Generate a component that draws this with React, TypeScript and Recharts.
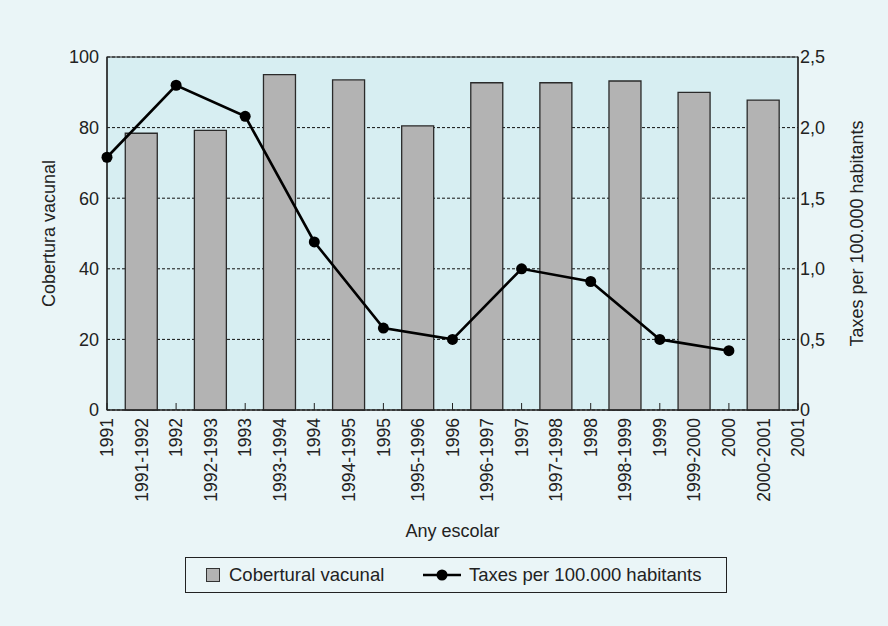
import React from 'react';
import { ComposedChart, Bar, Line, XAxis, YAxis, CartesianGrid, Legend, ReferenceArea } from 'recharts';

const FONT = '"Liberation Sans", Arial, Helvetica, sans-serif';
const INK = '#222';

// Axis categories: calendar years on the whole ticks, school years in between
const tickLabels = [
  '1991', '1991-1992', '1992', '1992-1993', '1993', '1993-1994', '1994',
  '1994-1995', '1995', '1995-1996', '1996', '1996-1997', '1997', '1997-1998',
  '1998', '1998-1999', '1999', '1999-2000', '2000', '2000-2001', '2001',
];
// Vaccine coverage (%) per school year
const coverage = [78.4, 79.2, 95, 93.5, 80.5, 92.7, 92.7, 93.2, 90, 87.8];
// Rate per 100,000 inhabitants per calendar year (1991-2000)
const rates = [1.79, 2.3, 2.08, 1.19, 0.58, 0.5, 1.0, 0.91, 0.5, 0.42];
const leftTicks = [0, 20, 40, 60, 80, 100];
const rightTicks = [0, 0.5, 1, 1.5, 2, 2.5];

const tickPositions = tickLabels.map((_, i) => 1991 + i / 2);
const data = tickPositions.map((x, i) => ({
  x,
  cobertura: i % 2 === 1 ? coverage[(i - 1) / 2] : null,
  taxes: i % 2 === 0 && i / 2 < rates.length ? rates[i / 2] : null,
}));

const fmtRate = (v: number) => (v === 0 ? '0' : v.toFixed(1).replace('.', ','));

const YearTick = (props: any) => {
  const { x, y, payload } = props;
  const idx = Math.round((payload.value - 1991) * 2);
  const isYear = idx % 2 === 0;
  return (
    <g>
      {isYear && <line x1={x} x2={x} y1={y - 8} y2={y - 15} stroke={INK} strokeWidth={1} />}
      <text
        x={x}
        y={y}
        transform={`rotate(-90, ${x}, ${y})`}
        textAnchor="end"
        dy="0.35em"
        fontFamily={FONT}
        fontSize={17.5}
        fill={INK}
      >
        {tickLabels[idx]}
      </text>
    </g>
  );
};

const titleStyle = { fontFamily: FONT, fontSize: 18, fill: INK };

const LegendBox = () => (
  <div style={{ position: 'relative', width: 888, height: 76 }}>
    <div
      style={{
        position: 'absolute',
        left: 185,
        top: 7,
        width: 542,
        height: 36,
        border: `1.2px solid ${INK}`,
        boxSizing: 'border-box',
        fontFamily: FONT,
        fontSize: 18.5,
        color: INK,
      }}
    >
      <svg width={14} height={14} style={{ position: 'absolute', left: 20, top: 10 }}>
        <rect x={0.5} y={0.5} width={13} height={13} fill="#b3b3b3" stroke="#333" />
      </svg>
      <span style={{ position: 'absolute', left: 43, top: 0, lineHeight: '34px', whiteSpace: 'nowrap' }}>
        Cobertural vacunal
      </span>
      <svg width={38} height={14} style={{ position: 'absolute', left: 237, top: 10 }}>
        <line x1={0} x2={38} y1={7} y2={7} stroke="#000" strokeWidth={2.5} />
        <circle cx={19} cy={7} r={5.5} fill="#000" />
      </svg>
      <span style={{ position: 'absolute', left: 283, top: 0, lineHeight: '34px', whiteSpace: 'nowrap' }}>
        Taxes per 100.000 habitants
      </span>
    </div>
  </div>
);

export default function App() {
  return (
    <div style={{ position: 'absolute', left: 0, top: 0, width: 888, height: 626, background: '#eaf5f7' }}>
      <ComposedChart width={888} height={626} data={data} margin={{ top: 57, right: 0, left: 0, bottom: 0 }}>
        <CartesianGrid
          yAxisId="left"
          vertical={false}
          stroke="#111"
          strokeDasharray="3 2"
          fill="#d7eef2"
          fillOpacity={1}
        />
        <XAxis
          dataKey="x"
          type="number"
          domain={[1991, 2001]}
          ticks={tickPositions}
          interval={0}
          height={140}
          tickLine={false}
          axisLine={{ stroke: INK, strokeWidth: 1.2 }}
          tick={<YearTick />}
          label={{
            content: (p: any) => {
              const vb = p.viewBox;
              return (
                <text x={vb.x + vb.width / 2} y={537} textAnchor="middle" {...titleStyle}>
                  Any escolar
                </text>
              );
            },
          }}
        />
        <YAxis
          yAxisId="left"
          domain={[0, 100]}
          ticks={leftTicks}
          width={107}
          tickLine={false}
          axisLine={{ stroke: INK, strokeWidth: 1.2 }}
          tick={{ fontFamily: FONT, fontSize: 18, fill: INK }}
          label={{
            content: (p: any) => {
              const vb = p.viewBox;
              const cx = 49;
              const cy = vb.y + vb.height / 2;
              return (
                <text transform={`translate(${cx}, ${cy}) rotate(-90)`} textAnchor="middle" dy="0.35em" {...titleStyle}>
                  Cobertura vacunal
                </text>
              );
            },
          }}
        />
        <YAxis
          yAxisId="right"
          orientation="right"
          domain={[0, 2.5]}
          ticks={rightTicks}
          width={90}
          tickLine={false}
          tickSize={0}
          tickMargin={2}
          tickFormatter={fmtRate}
          axisLine={{ stroke: INK, strokeWidth: 1.2 }}
          tick={{ fontFamily: FONT, fontSize: 18, fill: INK, textAnchor: 'start' }}
          label={{
            content: (p: any) => {
              const vb = p.viewBox;
              const cx = vb.x + 59;
              const cy = vb.y + vb.height / 2;
              return (
                <text transform={`translate(${cx}, ${cy}) rotate(-90)`} textAnchor="middle" dy="0.35em" {...titleStyle}>
                  Taxes per 100.000 habitants
                </text>
              );
            },
          }}
        />
        <Bar
          yAxisId="left"
          dataKey="cobertura"
          name="Cobertural vacunal"
          barSize={32}
          fill="#b3b3b3"
          stroke="#2a2a2a"
          strokeWidth={1.3}
          isAnimationActive={false}
        />
        <Line
          yAxisId="right"
          dataKey="taxes"
          name="Taxes per 100.000 habitants"
          type="linear"
          stroke="#000"
          strokeWidth={2.6}
          dot={{ r: 5.5, fill: '#000', stroke: '#000', strokeWidth: 0 }}
          activeDot={false}
          connectNulls
          isAnimationActive={false}
        />
        <ReferenceArea
          yAxisId="left"
          x1={1991}
          x2={2001}
          y1={0}
          y2={100}
          fill="none"
          stroke={INK}
          strokeWidth={1.2}
          ifOverflow="visible"
        />
        <Legend
          verticalAlign="bottom"
          content={<LegendBox />}
          wrapperStyle={{ left: 0, bottom: 0, width: 888, height: 76 }}
        />
      </ComposedChart>
    </div>
  );
}
